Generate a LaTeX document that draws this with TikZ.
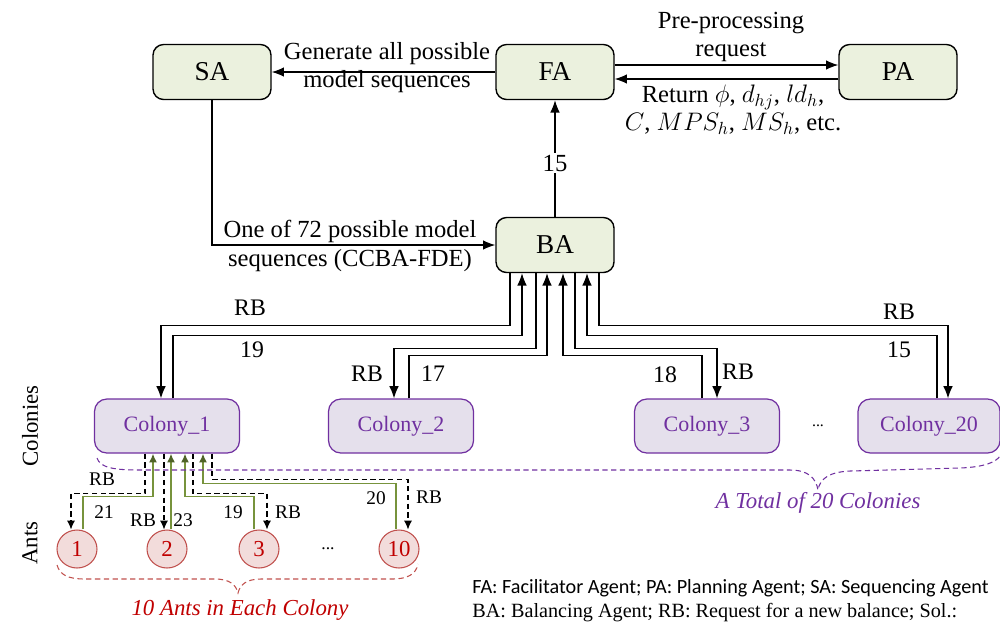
\documentclass[tikz,border=0pt]{standalone}
\usepackage{fontspec}
\setmainfont{Liberation Serif}
\newfontfamily\legendfont{Carlito}
\usetikzlibrary{arrows.meta,calc,shapes.geometric}
\definecolor{agentFill}{HTML}{EBF1DE}
\definecolor{colonyFill}{HTML}{E5E0EC}
\definecolor{colonyLine}{HTML}{7030A0}
\definecolor{antFill}{HTML}{F2DCDB}
\definecolor{antLine}{HTML}{C0504D}
\definecolor{antText}{HTML}{C00000}
\definecolor{antArrow}{HTML}{4F6228}
\definecolor{antGreen}{HTML}{77933C}

\begin{document}
\begin{tikzpicture}[x=0.02cm,y=-0.02cm,
  font=\fontsize{14}{16}\selectfont,
  agent/.style={draw,line width=0.8pt,rounded corners=6pt,fill=agentFill,minimum width=2.36cm,minimum height=1.1cm,font=\fontsize{15.5}{18}\selectfont},
  colony/.style={draw=colonyLine,line width=0.7pt,rounded corners=7pt,fill=colonyFill,text=colonyLine,minimum width=2.9cm,minimum height=1.08cm,font=\fontsize{12.5}{15}\selectfont},
  ant/.style={ellipse,draw=antLine,line width=0.6pt,fill=antFill,text=antText,inner sep=0pt,minimum width=0.8cm,minimum height=0.76cm,font=\fontsize{13}{15}\selectfont},
  link/.style={line width=0.75pt,-{Latex[length=7pt,width=5.5pt]}},
  rbLink/.style={line width=0.65pt,dash pattern=on 3pt off 2pt,-{Latex[length=5pt,width=4.5pt]}},
  antLink/.style={line width=0.8pt,antGreen,-{Latex[length=5pt,width=4.5pt,color=antArrow]}},
  small/.style={font=\fontsize{11}{13}\selectfont,inner sep=1pt},
  big/.style={font=\fontsize{13.5}{16}\selectfont,inner sep=1pt}
]
\useasboundingbox (0,0) rectangle (1000,627);

\node[agent] (SA) at (212,72) {SA};
\node[agent] (FA) at (555,72) {FA};
\node[agent] (PA) at (898,72) {PA};
\node[agent] (BA) at (555,245) {BA};

\node[colony] (Colony1) at (167,426) {Colony\_1};
\node[colony] (Colony2) at (401,426) {Colony\_2};
\node[colony] (Colony3) at (707,426) {Colony\_3};
\node[colony,minimum width=2.84cm] (Colony20) at (929,426) {Colony\_20};
\node[font=\fontsize{9}{10}\selectfont] (colonyDots) at (818,426) {...};

\node[ant] (Ant1) at (77,549) {1};
\node[ant] (Ant2) at (167,549) {2};
\node[ant] (Ant3) at (259,549) {3};
\node[ant] (Ant10) at (399,549) {10};
\node[font=\fontsize{10}{12}\selectfont] (antDots) at (328,549) {...};

\draw[link] (FA.west) -- (SA.east);
\node[align=center,inner sep=0pt] (genLbl) at (387,68) {Generate all possible\\model sequences};
\draw[link] ($(FA.east)+(0,-7)$) -- ($(PA.west)+(0,-7)$);
\draw[link] ($(PA.west)+(0,7)$) -- ($(FA.east)+(0,7)$);
\node[align=center,inner sep=0pt] (preLbl) at (731,37) {Pre-processing\\request};
\node[align=center,inner sep=0pt] (retLbl) at (733,110) {Return $\phi$, $d_{hj}$, $ld_h$,\\$C$, $MPS_h$, $MS_h$, etc.};
\draw[link] (BA.north) -- node[pos=0.46,fill=white,inner sep=1pt] (baLbl) {15} (FA.south);
\draw[link] (SA.south) |- (BA.west);
\node[align=center,inner sep=0pt] (oneLbl) at (350,246) {One of 72 possible model\\sequences (CCBA-FDE)};

\draw[link] ($(BA.south)+(-45,0)$) -- ++(0,52) -| ($(Colony1.north)+(-6,0)$);
\draw[link] ($(Colony1.north)+(6,0)$) -- ++(0,-63) -| ($(BA.south)+(-33,0)$);
\draw[link] ($(BA.south)+(-19,0)$) -- ++(0,75) -| ($(Colony2.north)+(-7,0)$);
\draw[link] ($(Colony2.north)+(8,0)$) -- ++(0,-43) -| ($(BA.south)+(-8,0)$);
\draw[link] ($(Colony3.north)+(-5,0)$) -- ++(0,-43) -| ($(BA.south)+(8,0)$);
\draw[link] ($(BA.south)+(20,0)$) -- ++(0,75) -| ($(Colony3.north)+(10,0)$);
\draw[link] ($(Colony20.north)+(8,0)$) -- ++(0,-63) -| ($(BA.south)+(32,0)$);
\draw[link] ($(BA.south)+(44,0)$) -- ++(0,52) -| ($(Colony20.north)+(19,0)$);

\node[big] (rbOne) at (250,308) {RB};
\node[big] (nOne) at (252,350) {19};
\node[big] (rbTwo) at (367,374) {RB};
\node[big] (nTwo) at (433,374) {17};
\node[big] (nThree) at (665,375) {18};
\node[big] (rbThree) at (738,372) {RB};
\node[big] (rbTwenty) at (899,312) {RB};
\node[big] (nTwenty) at (899,350) {15};

\draw[rbLink] ($(Colony1.south)+(-22,0)$) -- ++(0,40) -| ($(Ant1.north)+(-6,0)$);
\draw[antLink] ($(Ant1.north)+(6,0)$) -- ++(0,-33) -| ($(Colony1.south)+(-14,0)$);
\draw[rbLink] ($(Colony1.south)+(-3,0)$) -- ($(Ant2.north)+(-3,0)$);
\draw[antLink] ($(Ant2.north)+(4,0)$) -- ($(Colony1.south)+(4,0)$);
\draw[antLink] ($(Ant3.north)+(-5,0)$) -- ++(0,-33) -| ($(Colony1.south)+(18,0)$);
\draw[rbLink] ($(Colony1.south)+(26,0)$) -- ++(0,40) -| ($(Ant3.north)+(8,0)$);
\draw[antLink] ($(Ant10.north)+(-3,0)$) -- ++(0,-46) -| ($(Colony1.south)+(36,0)$);
\draw[rbLink] ($(Colony1.south)+(45,0)$) -- ++(0,26) -| ($(Ant10.north)+(9,0)$);

\node[small] (rbA) at (102,479) {RB};
\node[small] (nA) at (104,512) {21};
\node[small] (rbB) at (143,520) {RB};
\node[small] (nB) at (183,520) {23};
\node[small] (nC) at (233,512) {19};
\node[small] (rbC) at (288,512) {RB};
\node[small] (nD) at (376,498) {20};
\node[small] (rbD) at (429,497) {RB};

\draw[colonyLine,line width=0.6pt,dash pattern=on 3pt off 2pt]
  (97,458) .. controls (100,468) and (115,470) .. (140,470) -- (790,470)
  .. controls (808,470) and (816,478) .. (818,490)
  .. controls (820,478) and (830,472) .. (850,471) -- (960,468)
  .. controls (985,467) and (996,462) .. (1000,456);
\node[colonyLine,font=\fontsize{13}{15}\itshape] (colonyBrace) at (818,503) {A Total of 20 Colonies};

\draw[antLine,line width=0.6pt,dash pattern=on 3pt off 2pt]
  (57,565) .. controls (60,575) and (68,579) .. (85,579) -- (215,579)
  .. controls (230,579) and (236,585) .. (238,593)
  .. controls (240,585) and (246,579) .. (261,579) -- (392,579)
  .. controls (408,579) and (416,574) .. (418,564);
\node[antText,font=\fontsize{13}{15}\itshape] (antBrace) at (240,610) {10 Ants in Each Colony};

\node[rotate=90,font=\fontsize{13}{15}\selectfont] (colonyTitle) at (30,426) {Colonies};
\node[rotate=90,font=\fontsize{13}{15}\selectfont] (antTitle) at (30,543) {Ants};

\node[anchor=base west,inner sep=0pt,font=\legendfont\fontsize{11.5}{13}\selectfont] (legendOne) at (472,593) {FA: Facilitator Agent; PA: Planning Agent; SA: Sequencing Agent};
\node[anchor=base west,inner sep=0pt,font=\fontsize{11.5}{13}\selectfont] (legendTwo) at (472,617) {BA: Balancing Agent; RB: Request for a new balance; Sol.:};
\end{tikzpicture}
\end{document}
